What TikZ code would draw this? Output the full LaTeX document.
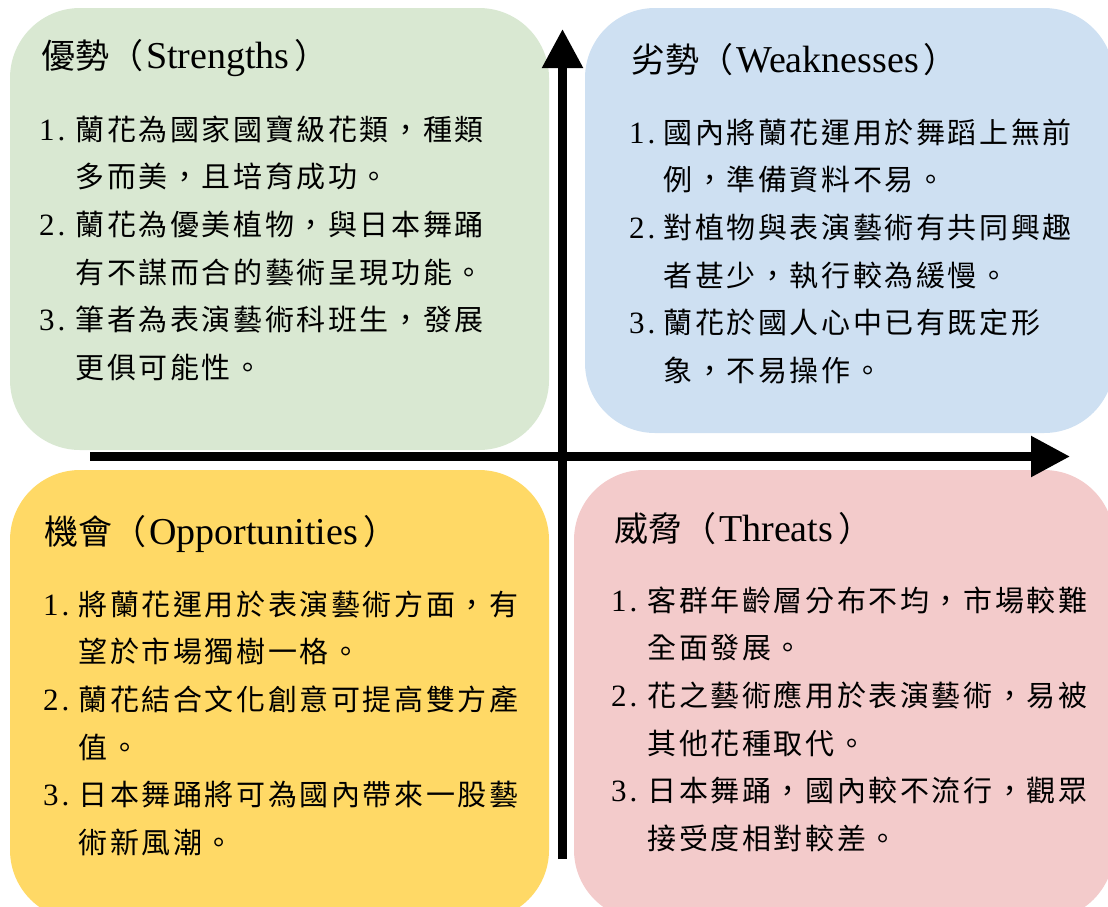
\documentclass[tikz,border=0pt]{standalone}
\usepackage{fontspec}
\setmainfont{Liberation Serif}
\newfontfamily\cjk{Noto Sans CJK TC}
\usetikzlibrary{arrows.meta}
\definecolor{sgreen}{HTML}{D9E8D2}
\definecolor{wblue}{HTML}{CEE0F2}
\definecolor{oyellow}{HTML}{FFD966}
\definecolor{tpink}{HTML}{F3CBCB}
\newlength\cjpitch
\setlength\cjpitch{31.6pt}
\makeatletter
\newcommand\cjrow[1]{{\cjk\@tfor\cjch:=#1\do{\makebox[\cjpitch][c]{\cjch}}}}
\makeatother
\newcommand\bodysize{\fontsize{29}{34}\selectfont}
\newcommand\numsize{\fontsize{31}{36}\selectfont}
\newcommand\titlesize{\fontsize{38}{44}\selectfont}
\newcommand\titlecjk{\cjk\fontsize{34}{40}\selectfont}
\newcommand\swottitle[2]{{\titlecjk #1（}\kern3pt#2\kern5pt{\titlecjk ）}}
% #1 name, #2 x of number, #3 x of text, #4 baseline, #5 number, #6 first line, #7 second line
\newcommand\swotitem[7]{%
  \node[numtxt] (#1n) at (#2,#4) {#5\kern3pt.};
  \node[bodytxt] (#1a) at (#3,#4) {\cjrow{#6}};
  \node[bodytxt] (#1b) at (#3,#4+47.7) {\cjrow{#7}};
}
\begin{document}
\begin{tikzpicture}[x=1pt,y=-1pt,
  quad/.style={rectangle, rounded corners=70pt, draw=none, inner sep=0pt},
  numtxt/.style={inner sep=0pt, anchor=base west, font=\numsize},
  bodytxt/.style={inner sep=0pt, anchor=base west, font=\bodysize},
  titletxt/.style={inner sep=0pt, anchor=base west, font=\titlesize},
  axis/.style={line width=8.5pt, -{Triangle[width=39pt,length=39pt]}}]
\useasboundingbox (0,0) rectangle (1108,906);
\clip (0,0) rectangle (1108,906);
% quadrants
\node[quad, fill=sgreen, minimum width=539pt, minimum height=442pt] (S) at (279.5,229) {};
\node[quad, fill=wblue, minimum width=529pt, minimum height=425pt] (W) at (849.5,220.5) {};
\node[quad, fill=oyellow, minimum width=539pt, minimum height=450pt] (O) at (279.5,695) {};
\node[quad, fill=tpink, minimum width=540pt, minimum height=450pt] (T) at (844,695) {};
% axes
\coordinate (vb) at (562.5,859);
\coordinate (vt) at (562.5,29);
\coordinate (hl) at (90,456.5);
\coordinate (hr) at (1070,456.5);
\draw[axis] (vb) -- (vt);
\draw[axis] (hl) -- (hr);
% Strengths
\node[titletxt] (St) at (41,68) {\swottitle{優勢}{Strengths}};
\swotitem{S1}{39}{74}{140}{1}{蘭花為國家國寶級花類，種類}{多而美，且培育成功。}
\swotitem{S2}{39}{74}{235.4}{2}{蘭花為優美植物，與日本舞踊}{有不謀而合的藝術呈現功能。}
\swotitem{S3}{39}{74}{330.8}{3}{筆者為表演藝術科班生，發展}{更俱可能性。}
% Weaknesses
\node[titletxt] (Wt) at (631,72) {\swottitle{劣勢}{Weaknesses}};
\swotitem{W1}{629}{662}{143}{1}{國內將蘭花運用於舞蹈上無前}{例，準備資料不易。}
\swotitem{W2}{629}{662}{238.4}{2}{對植物與表演藝術有共同興趣}{者甚少，執行較為緩慢。}
\swotitem{W3}{629}{662}{333.8}{3}{蘭花於國人心中已有既定形}{象，不易操作。}
% Opportunities
\node[titletxt] (Ot) at (44,544) {\swottitle{機會}{Opportunities}};
\swotitem{O1}{43}{77}{615}{1}{將蘭花運用於表演藝術方面，有}{望於市場獨樹一格。}
\swotitem{O2}{43}{77}{710.4}{2}{蘭花結合文化創意可提高雙方產}{值。}
\swotitem{O3}{43}{77}{805.8}{3}{日本舞踊將可為國內帶來一股藝}{術新風潮。}
% Threats
\node[titletxt] (Tt) at (614,541) {\swottitle{威脅}{Threats}};
\swotitem{T1}{611}{646}{611}{1}{客群年齡層分布不均，市場較難}{全面發展。}
\swotitem{T2}{611}{646}{706.4}{2}{花之藝術應用於表演藝術，易被}{其他花種取代。}
\swotitem{T3}{611}{646}{801.8}{3}{日本舞踊，國內較不流行，觀眾}{接受度相對較差。}
\end{tikzpicture}
\end{document}
